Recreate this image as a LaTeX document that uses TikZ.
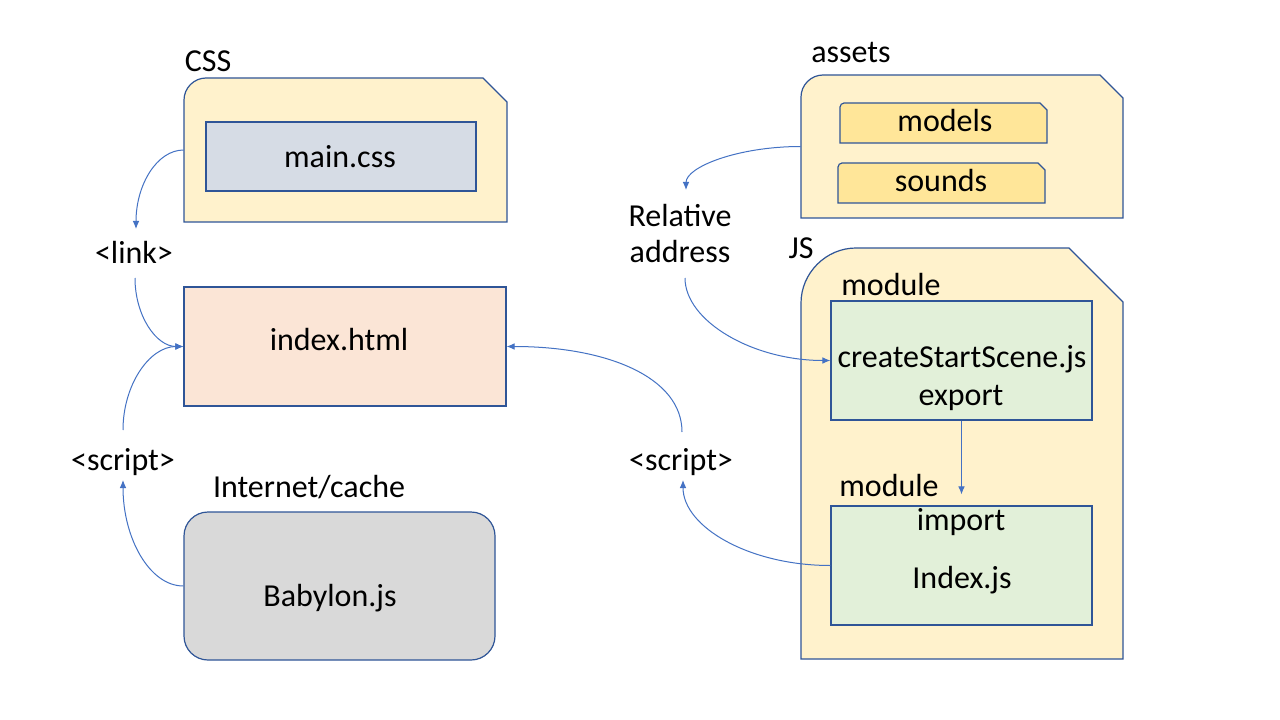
\documentclass[tikz,border=0pt]{standalone}
\usepackage{fontspec}
\setmainfont{Carlito}
\usetikzlibrary{arrows.meta,fit,calc}
\definecolor{folderfill}{HTML}{FFF2CC}
\definecolor{edgec}{HTML}{2F5597}
\definecolor{arrowc}{HTML}{4472C4}
\definecolor{cssfill}{HTML}{D6DCE5}
\definecolor{htmlfill}{HTML}{FBE5D6}
\definecolor{greyfill}{HTML}{D9D9D9}
\definecolor{subfill}{HTML}{FFE699}
\definecolor{jsfill}{HTML}{E2F0D9}
\begin{document}
\begin{tikzpicture}[x=0.75pt,y=-0.75pt,
  txt/.style={inner sep=0pt, font=\fontsize{24pt}{27pt}\selectfont, anchor=base},
  box/.style={draw=edgec, line width=0.9pt, inner sep=0pt},
  holder/.style={inner sep=0pt},
  folder/.style={draw=edgec, line width=0.9pt, fill=folderfill},
  conn/.style={draw=arrowc, line width=0.75pt, -{Latex[length=6pt,width=5pt]}}]
\useasboundingbox[fill=white] (0,0) rectangle (1280,720);

% ---- folders (outlines) ----
\draw[folder] (184,222) -- (184,100) .. controls (184,88) and (194,78) .. (206,78)
  -- (483,78) -- (507,102) -- (507,222) -- cycle;
\draw[folder] (801,218) -- (801,97) .. controls (801,85) and (811,75) .. (823,75)
  -- (1100,75) -- (1123,98) -- (1123,218) -- cycle;
\draw[folder] (801,659) -- (801,303) .. controls (801,273) and (826,248) .. (856,248)
  -- (1069,248) -- (1123,302) -- (1123,659) -- cycle;
\node[holder, fit={(184,78) (507,222)}] (css) {};
\node[holder, fit={(801,75) (1123,218)}] (assets) {};
\node[holder, fit={(801,248) (1123,659)}] (js) {};

% sub folders in assets
\draw[box, fill=subfill] (840,143) -- (840,107) .. controls (840,105) and (842,103) .. (844,103)
  -- (1040,103) -- (1047,110) -- (1047,143) -- cycle;
\draw[box, fill=subfill] (838,203) -- (838,167) .. controls (838,165) and (840,163) .. (842,163)
  -- (1038,163) -- (1045,170) -- (1045,203) -- cycle;
\node[holder, fit={(840,103) (1047,143)}] (models) {};
\node[holder, fit={(838,163) (1045,203)}] (sounds) {};

% ---- boxes ----
\node[box, fill=cssfill, fit={(206,122) (476,191)}] (maincss) {};
\node[box, fill=htmlfill, fit={(184,287) (506,406)}] (html) {};
\node[box, fill=greyfill, rounded corners=18pt, fit={(184,512) (495,660)}] (babylon) {};
\node[box, fill=jsfill, fit={(831,301) (1092,420)}] (create) {};
\node[box, fill=jsfill, fit={(831,506) (1092,625)}] (indexjs) {};

% ---- texts ----
\node[txt] (csslbl) at (208,72) {CSS};
\node[txt] (maincsst) at (340,168) {main.css};
\node[txt] (assetslbl) at (851,63) {assets};
\node[txt] (modelst) at (945,132) {models};
\node[txt] (soundst) at (941,192) {sounds};
\node[txt] (jslbl) at (801,258) {JS};
\node[txt] (mod1) at (891,295) {module};
\node[txt] (createt) at (962,367) {createStartScene.js};
\node[txt] (exportt) at (961,405) {export};
\node[txt] (mod2) at (889,496) {module};
\node[txt] (importt) at (961,530) {import};
\node[txt] (indext) at (962,588) {Index.js};
\node[txt] (htmlt) at (339,350) {index.html};
\node[txt] (babylont) at (330,606) {Babylon.js};
\node[txt] (inetlbl) at (309,497) {Internet/cache};
\node[txt] (link) at (134,263) {<link>};
\node[txt] (scriptl) at (123,470) {<script>};
\node[txt] (scriptr) at (681,470) {<script>};
\node[inner sep=0pt, font=\fontsize{24pt}{27pt}\selectfont, align=center] (rel) at (680,234) {Relative\\address};

% ---- connectors ----
\draw[conn] (css.west) .. controls +(-27,0) and +(0,-44) .. ($(link.base)+(2,-34)$);
\draw[conn] ($(link.base)+(1,15)$) .. controls +(0,38) and +(-27,0) .. (html.west);
\draw[conn] ($(scriptl.base)+(0,-40)$) .. controls +(0,-45) and +(-34,0) .. (html.west);
\draw[conn] (babylon.west) .. controls +(-34,0) and +(0,58) .. ($(scriptl.base)+(0,10)$);
\draw[conn] (assets.west) .. controls +(-63,0) and +(0,-23) .. ($(rel.center)+(6,-44)$);
\draw[conn] ($(rel.center)+(5,44)$) .. controls +(0,43) and +(-78,0) .. (create.west);
\draw[conn] (create.south) -- ($(indexjs.north)+(0,-11)$);
\draw[conn] (indexjs.west) .. controls +(-81,0) and +(0,47) .. ($(scriptr.base)+(2,10)$);
\draw[conn] ($(scriptr.base)+(1,-38)$) .. controls +(0,-55) and +(100,0) .. (html.east);
\end{tikzpicture}
\end{document}
